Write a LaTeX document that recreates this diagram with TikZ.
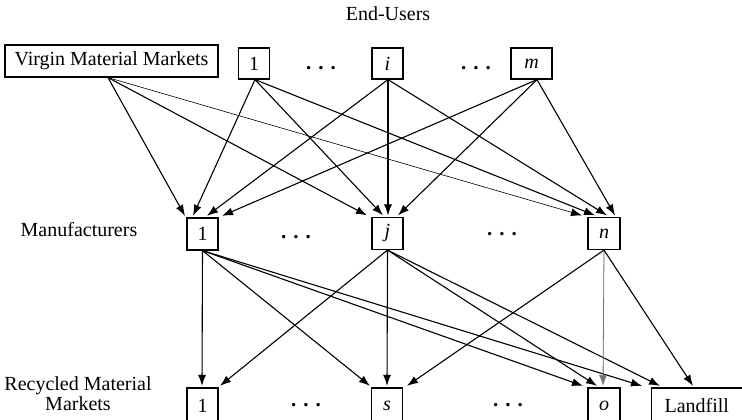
\documentclass[tikz,border=0pt]{standalone}
\usepackage{fontspec}
\setmainfont{Liberation Serif}
\usetikzlibrary{arrows.meta}
\begin{document}
\begin{tikzpicture}[x=1pt,y=-1pt,
  lbl/.style={font=\fontsize{20}{20}\selectfont, inner sep=0pt},
  box/.style={draw, line width=1.2pt, inner sep=0pt, minimum height=32pt, font=\fontsize{20}{20}\selectfont},
  sbox/.style={box, minimum width=31pt},
  dots/.style={font=\fontsize{21}{21}\selectfont\bfseries, inner sep=0pt},
  flow/.style={-{Latex[length=11pt,width=8pt]}, line width=1.1pt},
  thin flow/.style={-{Latex[length=11pt,width=8pt]}, line width=0.6pt},
  gray flow/.style={-{Latex[length=11pt,width=8pt]}, line width=0.8pt, draw=black!55, fill=black}]
\useasboundingbox (0,0) rectangle (742,420);
\clip (0,0) rectangle (742,420);
\fill[white] (0,0) rectangle (742,420);

% labels
\node[lbl] (eu) at (388,14) {End-Users};
\node[lbl] (mlab) at (79,230) {Manufacturers};
\node[lbl, align=center] (rlab) at (78,394) {Recycled Material\\Markets};

% top row
\node[box, minimum width=213pt] (vmm) at (111.5,61) {Virgin Material Markets};
\node[sbox, minimum height=31pt] (e1) at (254,63.5) {1};
\node[sbox, minimum height=31pt] (ei) at (387.5,63.5) {\textit{i}};
\node[box, minimum width=41pt, minimum height=31pt] (em) at (531.5,63.5) {\textit{m}};
\node[dots] (d1) at (321,68) {. . .};
\node[dots] (d2) at (476,68) {. . .};

% manufacturers
\node[sbox] (m1) at (202.5,234) {1};
\node[sbox] (mj) at (387.5,233.5) {\textit{j}};
\node[box, minimum width=32pt] (mn) at (604,233.5) {\textit{n}};
\node[dots] (d3) at (296,237) {. . .};
\node[dots] (d4) at (502,234) {. . .};

% recycled material markets
\node[sbox, minimum height=36pt] (r1) at (202.5,406) {1};
\node[sbox, minimum height=36pt] (rs) at (387,406) {\textit{s}};
\node[box, minimum width=32pt, minimum height=36pt] (ro) at (604,406) {\textit{o}};
\node[box, minimum height=36pt, anchor=west, inner xsep=13pt] (lf) at (651,406) {Landfill\hspace*{30pt}};
\node[dots] (d5) at (306,405) {. . .};
\node[dots] (d6) at (508,405) {. . .};

% virgin material -> manufacturers
\draw[flow] ([xshift=-3.5pt]vmm.south) -- ([xshift=-17.5pt,yshift=1.5pt]m1.north);
\draw[flow] ([xshift=-3.5pt]vmm.south) -- ([xshift=-20.5pt,yshift=1.5pt]mj.north);
\draw[thin flow] ([xshift=-3.5pt]vmm.south) -- ([xshift=-22pt,yshift=1.5pt]mn.north);

% end-users -> manufacturers
\draw[flow] ([xshift=1pt]e1.south) -- ([xshift=-9.5pt,yshift=1.5pt]m1.north);
\draw[flow] ([xshift=1pt]e1.south) -- ([xshift=-4.5pt,yshift=1.5pt]mj.north);
\draw[flow] ([xshift=1pt]e1.south) -- ([xshift=-9pt,yshift=1.5pt]mn.north);

\draw[flow] ([xshift=0.5pt]ei.south) -- ([xshift=4.5pt,yshift=1.5pt]m1.north);
\draw[flow] ([xshift=0.5pt]ei.south) -- ([xshift=0.5pt,yshift=1.5pt]mj.north);
\draw[flow] ([xshift=0.5pt]ei.south) -- ([xshift=3pt,yshift=1.5pt]mn.north);

\draw[flow] ([xshift=5.5pt]em.south) -- ([xshift=19.5pt,yshift=1.5pt]m1.north);
\draw[flow] ([xshift=5.5pt]em.south) -- ([xshift=10.5pt,yshift=1.5pt]mj.north);
\draw[flow] ([xshift=5.5pt]em.south) -- ([xshift=11pt,yshift=1.5pt]mn.north);

% manufacturers -> recycled / landfill
\draw[flow] (m1.south) -- ([xshift=-0.5pt,yshift=1.5pt]r1.north);
\draw[flow] (m1.south) -- ([xshift=-17pt,yshift=1.5pt]rs.north);
\draw[flow] (m1.south) -- ([xshift=-21pt,yshift=1.5pt]ro.north);
\draw[flow] (m1.south) -- ([xshift=-9pt,yshift=1.5pt]lf.north west);

\draw[flow] (mj.south) -- ([xshift=17.5pt,yshift=1.5pt]r1.north);
\draw[flow] (mj.south) -- ([xshift=0pt,yshift=1.5pt]rs.north);
\draw[flow] (mj.south) -- ([xshift=-7pt,yshift=1.5pt]ro.north);
\draw[flow] (mj.south) -- ([xshift=9pt,yshift=1.5pt]lf.north west);

\draw[flow] (mn.south) -- ([xshift=20pt,yshift=1.5pt]rs.north);
\draw[gray flow] (mn.south) -- ([xshift=-1pt,yshift=1.5pt]ro.north);
\draw[flow] (mn.south) -- ([xshift=42pt,yshift=1.5pt]lf.north west);
\end{tikzpicture}
\end{document}
